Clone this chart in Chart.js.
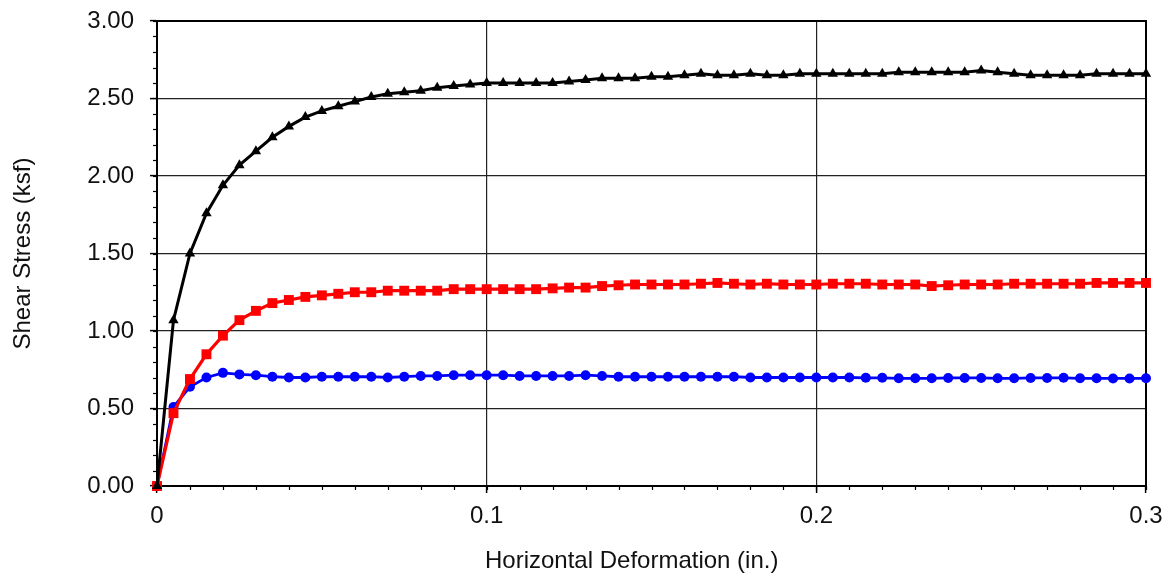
<!DOCTYPE html>
<html>
<head>
<meta charset="utf-8">
<script src="https://cdn.jsdelivr.net/npm/chart.js@4/dist/chart.umd.min.js"></script>
<style>
html,body{margin:0;padding:0;background:#fff;}
#wrap{width:1169px;height:580px;}
</style>
</head>
<body>
<div id="wrap"><canvas id="c" width="1169" height="580"></canvas></div>
<script>
const deformation = [0,0.005,0.01,0.015,0.02,0.025,0.03,0.035,0.04,0.045,0.05,0.055,0.06,0.065,0.07,0.075,0.08,0.085,0.09,0.095,0.1,
  0.105,0.11,0.115,0.12,0.125,0.13,0.135,0.14,0.145,0.15,0.155,0.16,0.165,0.17,0.175,0.18,0.185,0.19,0.195,0.2,
  0.205,0.21,0.215,0.22,0.225,0.23,0.235,0.24,0.245,0.25,0.255,0.26,0.265,0.27,0.275,0.28,0.285,0.29,0.295,0.3];

const stressBlack = [0,1.07,1.50,1.76,1.94,2.07,2.16,2.25,2.32,2.38,2.42,2.45,2.48,2.51,2.53,2.54,2.55,2.57,2.58,2.59,2.60,
  2.60,2.60,2.60,2.60,2.61,2.62,2.63,2.63,2.63,2.64,2.64,2.65,2.66,2.65,2.65,2.66,2.65,2.65,2.66,2.66,
  2.66,2.66,2.66,2.66,2.67,2.67,2.67,2.67,2.67,2.68,2.67,2.66,2.65,2.65,2.65,2.65,2.66,2.66,2.66,2.66];

const stressRed = [0,0.47,0.69,0.85,0.97,1.07,1.13,1.18,1.20,1.22,1.23,1.24,1.25,1.25,1.26,1.26,1.26,1.26,1.27,1.27,1.27,
  1.27,1.27,1.27,1.275,1.28,1.28,1.29,1.295,1.30,1.30,1.30,1.30,1.305,1.31,1.305,1.30,1.305,1.30,1.30,1.30,
  1.305,1.305,1.305,1.30,1.30,1.30,1.29,1.295,1.30,1.30,1.30,1.305,1.305,1.305,1.305,1.305,1.31,1.31,1.31,1.31];

const stressBlue = [0,0.51,0.64,0.70,0.73,0.72,0.715,0.705,0.70,0.70,0.705,0.705,0.705,0.705,0.70,0.705,0.71,0.71,0.715,0.715,0.715,
  0.715,0.71,0.71,0.71,0.71,0.715,0.71,0.705,0.705,0.705,0.705,0.705,0.705,0.705,0.705,0.70,0.70,0.70,0.70,0.70,
  0.70,0.70,0.698,0.698,0.695,0.695,0.695,0.697,0.697,0.697,0.695,0.695,0.697,0.697,0.698,0.695,0.695,0.694,0.694,0.695];

const xMin = 0, xMax = 0.3, xMajor = 0.1, xMinor = 0.01;
const yMin = 0, yMax = 3, yMajor = 0.5, yMinor = 0.1;
const xTitle = 'Horizontal Deformation (in.)';
const yTitle = 'Shear Stress (ksf)';

function pts(ys){ return deformation.map((x,i)=>({x:x,y:ys[i]})); }

const FONT = 'Arial, "Liberation Sans", sans-serif';

const framePlugin = {
  id:'frame',
  beforeDatasetsDraw(chart){
    const {ctx, chartArea:a, scales:{x,y}} = chart;
    ctx.save();
    ctx.strokeStyle = '#000';
    ctx.lineWidth = 1.2;
    const nx = Math.round((xMax-xMin)/xMinor);
    for(let i=0;i<=nx;i++){
      const px = Math.round(x.getPixelForValue(xMin+i*xMinor))+0.5;
      ctx.beginPath(); ctx.moveTo(px,a.bottom); ctx.lineTo(px,a.bottom+4); ctx.stroke();
    }
    const ny = Math.round((yMax-yMin)/yMinor);
    for(let i=0;i<=ny;i++){
      const py = Math.round(y.getPixelForValue(yMin+i*yMinor))+0.5;
      ctx.beginPath(); ctx.moveTo(a.left,py); ctx.lineTo(a.left-4,py); ctx.stroke();
    }
    ctx.lineWidth = 2;
    ctx.strokeRect(a.left, a.top, a.right-a.left, a.bottom-a.top);
    ctx.fillStyle = '#111';
    ctx.font = '24px ' + FONT;
    ctx.textAlign = 'center';
    ctx.textBaseline = 'middle';
    ctx.fillText(xTitle, a.left + (a.right-a.left)*0.48, 561);
    ctx.restore();
  }
};

new Chart(document.getElementById('c'), {
  type:'line',
  data:{
    datasets:[
      {data:pts(stressBlack), borderColor:'#000', backgroundColor:'#000', borderWidth:3,
       pointStyle:'triangle', pointRadius:6, pointBorderWidth:0, clip:false},
      {data:pts(stressRed), borderColor:'#ff0000', backgroundColor:'#ff0000', borderWidth:3.2,
       pointStyle:'rect', pointRadius:7, pointBorderWidth:0, clip:false},
      {data:pts(stressBlue), borderColor:'#0000ff', backgroundColor:'#0000ff', borderWidth:2.8,
       pointStyle:'circle', pointRadius:5, pointBorderWidth:0, clip:false}
    ]
  },
  options:{
    responsive:false,
    animation:false,
    devicePixelRatio:1,
    layout:{padding:{top:21,right:23,left:0,bottom:0}},
    plugins:{legend:{display:false}, tooltip:{enabled:false}},
    elements:{line:{tension:0}},
    scales:{
      x:{
        type:'linear', min:xMin, max:xMax,
        afterFit(s){ s.height = 94; s.paddingLeft = 0; s.paddingRight = 0; },
        border:{display:true, color:'#000', width:2},
        grid:{color:'#222', lineWidth:1.2, drawTicks:true, tickLength:7, tickColor:'#000', tickWidth:1.5},
        ticks:{stepSize:xMajor, color:'#111', padding:9, font:{family:FONT, size:24},
          callback:(v)=> Math.abs(v) < 1e-9 ? '0' : String(Math.round(v*10)/10)},
        title:{display:false}
      },
      y:{
        type:'linear', min:yMin, max:yMax,
        afterFit(s){ s.width = 157; s.paddingTop = 0; s.paddingBottom = 0; },
        border:{display:true, color:'#000', width:2},
        grid:{color:'#222', lineWidth:1.2, drawTicks:true, tickLength:7, tickColor:'#000', tickWidth:1.5},
        ticks:{stepSize:yMajor, color:'#111', padding:16, font:{family:FONT, size:24},
          callback:(v)=> Number(v).toFixed(2)},
        title:{display:true, text:yTitle, color:'#111', font:{family:FONT, size:24, lineHeight:1.2}, padding:{top:9,bottom:0}}
      }
    }
  },
  plugins:[framePlugin]
});
</script>
</body>
</html>
